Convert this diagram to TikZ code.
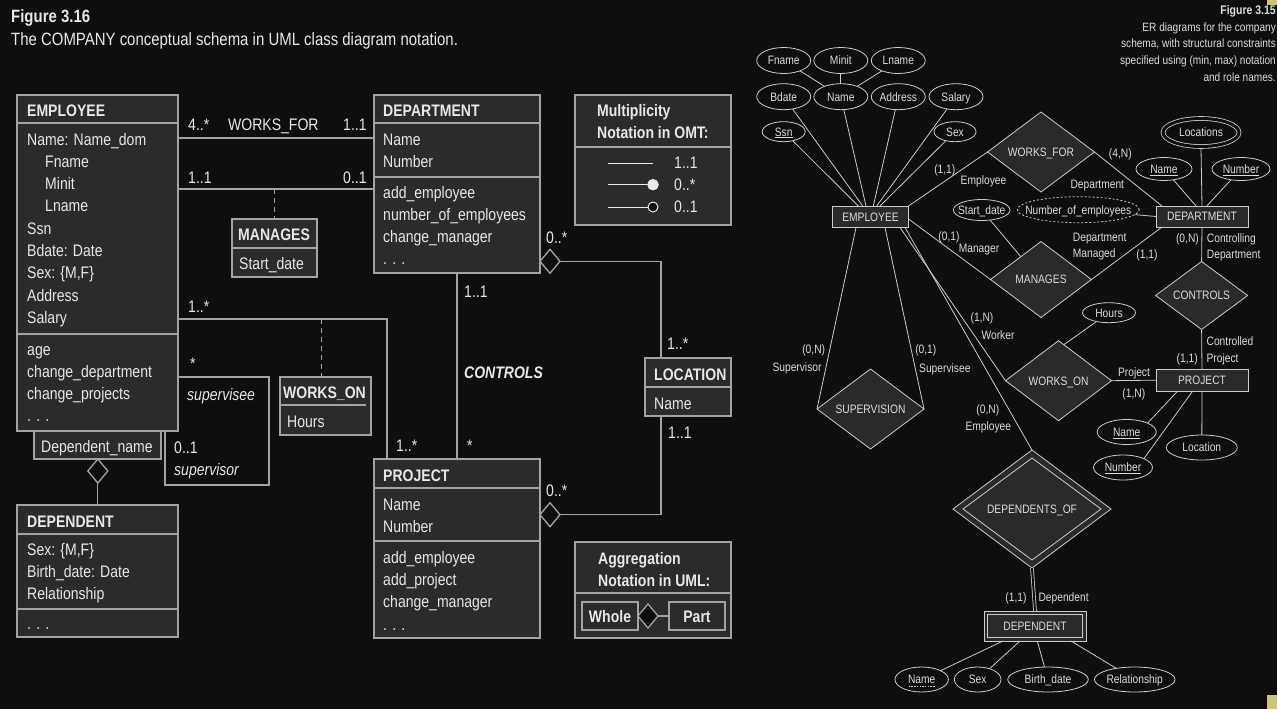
\documentclass[tikz,border=0pt]{standalone}
\usepackage{fontspec}
\setmainfont{Liberation Sans}[FakeStretch=0.84]
\usetikzlibrary{shapes.geometric,calc}
\definecolor{bg}{HTML}{0E0E0E}
\definecolor{boxfill}{HTML}{2B2B2B}
\definecolor{ulcol}{HTML}{A3A3A3}
\definecolor{utext}{HTML}{E8E8E8}
\definecolor{ercol}{HTML}{CCCCCC}
\definecolor{efill}{HTML}{2A2A2A}
\definecolor{etext}{HTML}{DCDCDC}
\definecolor{cornermk}{HTML}{CFC27A}
\newcommand\uf{\fontsize{16.7}{20}\selectfont}
\newcommand\etf{\fontsize{12.2}{14}\selectfont}
\tikzset{
  umlbox/.style={rectangle, draw=ulcol, fill=boxfill, line width=1.3pt, inner sep=0pt, outer sep=0pt},
  uconn/.style={draw=ulcol, line width=1.3pt},
  udash/.style={draw=ulcol, line width=1pt, dash pattern=on 5pt off 4pt},
  ut/.style={anchor=base west, inner sep=0pt, text=utext, font=\uf},
  utb/.style={ut, font=\uf\bfseries},
  uti/.style={ut, font=\uf\itshape},
  adia/.style={diamond, draw=ulcol, fill=bg, line width=1.3pt, inner sep=0pt, outer sep=0pt, minimum width=20pt, minimum height=24pt},
  erl/.style={draw=ercol, line width=0.8pt},
  eell/.style={ellipse, draw=ercol, line width=0.8pt, inner sep=0pt, outer sep=0pt, text=etext, font=\etf, text height=8.7pt, text depth=0pt},
  edia/.style={diamond, draw=ercol, fill=efill, line width=0.8pt, inner sep=0pt, outer sep=0pt, text=etext, font=\etf, text height=8.7pt, text depth=0pt},
  erect/.style={rectangle, draw=ercol, fill=efill, line width=0.8pt, inner sep=0pt, outer sep=0pt, text=etext, font=\etf, text height=8.7pt, text depth=0pt},
  elab/.style={inner sep=0pt, text=etext, font=\etf, text height=8.7pt, text depth=0pt},
}
\newcommand\ubox[5]{\node[umlbox, minimum width={(#4)-(#2)}, minimum height={(#5)-(#3)}] (#1) at ({((#2)+(#4))/2},{((#3)+(#5))/2}) {};}
\newcommand\usepl[2]{\draw[uconn] ($(#1.north west)+(0,#2)$) -- ($(#1.north east)+(0,#2)$);}
\newcommand\erell[6]{\node[eell, minimum width={2*(#4)}, minimum height={2*(#5)}] (#1) at (#2,#3) {\makebox[0pt]{#6}};}
\newcommand\erdia[6]{\node[edia, minimum width={2*(#4)}, minimum height={2*(#5)}] (#1) at (#2,#3) {\makebox[0pt]{#6}};}
\newcommand\errect[6]{\node[erect, minimum width={(#4)-(#2)}, minimum height={(#5)-(#3)}] (#1) at ({((#2)+(#4))/2},{((#3)+(#5))/2}) {\makebox[0pt]{#6}};}
\begin{document}
\begin{tikzpicture}[x=1pt,y=-1pt]
\useasboundingbox (0,0) rectangle (1277,709);
\fill[bg] (0,0) rectangle (1277,709);
\fill[cornermk] (1267,0) rectangle (1277,5);
\fill[cornermk] (1267,695) rectangle (1277,709);

% ---------------- UML titles
\node[anchor=base west, inner sep=0pt, text=utext, font=\fontsize{17.8}{20}\selectfont\bfseries] (t1) at (11,22.7) {Figure 3.16};
\node[anchor=base west, inner sep=0pt, text=utext, font=\fontsize{17.8}{20}\selectfont] (t2) at (11,45.5) {The COMPANY conceptual schema in UML class diagram notation.};

% ---------------- UML boxes
\ubox{depnm}{34}{431}{161}{459}
\ubox{emp}{17}{95}{178}{431}
\usepl{emp}{28}
\usepl{emp}{239}
\ubox{dep}{17}{505}{178}{637}
\usepl{dep}{29}
\usepl{dep}{104}
\ubox{mgs}{232}{219}{317}{277}
\usepl{mgs}{29}
\ubox{wko}{280}{377}{371}{435}
\draw[uconn] (280,405) -- (366,405);
\ubox{dept}{374}{95}{540}{273}
\usepl{dept}{28}
\usepl{dept}{82}
\ubox{mult}{575}{95}{731}{225}
\usepl{mult}{52}
\ubox{loc}{645}{358}{731}{416}
\usepl{loc}{29}
\ubox{proj}{374}{459}{540}{638}
\usepl{proj}{29}
\usepl{proj}{82}
\ubox{aggr}{575}{542}{731}{638}
\usepl{aggr}{51}
\ubox{whole}{582}{602}{638}{630}
\ubox{part}{669}{602}{725}{630}

\node[adia] (depdia) at (97.8,471) {};
\node[adia] (ddia) at (550,261.3) {};
\node[adia] (pdia) at (550,514.7) {};
\node[adia] (agdia) at (648,616) {};

% ---------------- UML connectors
\coordinate (wfy) at (0,138);
\coordinate (mgy) at (0,189);
\coordinate (woc) at (387,319);
\coordinate (wod) at (321,319);
\coordinate (ctx) at (457,0);
\coordinate (lx) at (661,0);
\coordinate (svt) at (269,377);
\coordinate (svb) at (269,485);
\draw[uconn] (emp.east|-wfy) -- (dept.west|-wfy);
\draw[uconn] (emp.east|-mgy) -- (dept.west|-mgy);
\draw[udash] (mgs.north|-mgy) -- (mgs.north);
\draw[uconn] (emp.east|-woc) -- (woc) -- (woc|-proj.north);
\draw[udash] (wod) -- (wod|-wko.north);
\draw[uconn] (emp.east|-svt) -- (svt) -- (svb) -| ($(emp.south west)+(148,0)$);
\draw[uconn] (ctx|-dept.south) -- (ctx|-proj.north);
\draw[uconn] (ddia.east) -| (lx|-loc.north);
\draw[uconn] (pdia.east) -| (lx|-loc.south);
\draw[uconn] (depdia.south) -- (depdia.south|-dep.north);
\draw[uconn] (agdia.east) -- (part.west);

% OMT legend
\coordinate (om1) at (608,163);
\coordinate (om2) at (608,184.7);
\coordinate (om3) at (608,207);
\node[circle, fill=utext, draw=utext, line width=1pt, inner sep=0pt, minimum size=10.5pt] (fc) at (653,184.7) {};
\node[circle, fill=bg, draw=utext, line width=1pt, inner sep=0pt, minimum size=10pt] (oc) at (653,207) {};
\coordinate (om1e) at (653,163);
\draw[draw=utext, line width=1pt] (om1) -- (om1e);
\draw[draw=utext, line width=1pt] (om2) -- (fc.west);
\draw[draw=utext, line width=1pt] (om3) -- (oc.west);

% ---------------- UML texts
\node[utb] (e0) at (27,116) {EMPLOYEE};
\node[ut] (e1) at (27,145) {Name: Name\_dom};
\node[ut] (e2) at (45,167.3) {Fname};
\node[ut] (e3) at (45,189.6) {Minit};
\node[ut] (e4) at (45,211.9) {Lname};
\node[ut] (e5) at (27,234.2) {Ssn};
\node[ut] (e6) at (27,256.5) {Bdate: Date};
\node[ut] (e7) at (27,278.8) {Sex: \{M,F\}};
\node[ut] (e8) at (27,301.1) {Address};
\node[ut] (e9) at (27,323.4) {Salary};
\node[ut] (e10) at (27,355) {age};
\node[ut] (e11) at (27,377) {change\_department};
\node[ut] (e12) at (27,399) {change\_projects};
\node[ut] (e13) at (27,421) {. . .};
\node[ut] (dn0) at (41,452) {Dependent\_name};
\node[utb] (d0) at (27,527) {DEPENDENT};
\node[ut] (d1) at (27,555) {Sex: \{M,F\}};
\node[ut] (d2) at (27,577) {Birth\_date: Date};
\node[ut] (d3) at (27,599) {Relationship};
\node[ut] (d4) at (27,629) {. . .};

\node[ut] (m1) at (188,130.5) {4..*};
\node[ut] (m2) at (228,130.5) {WORKS\_FOR};
\node[ut] (m3) at (343,130.5) {1..1};
\node[ut] (m4) at (188,183) {1..1};
\node[ut] (m5) at (343,183) {0..1};
\node[ut] (m6) at (188,312) {1..*};
\node[ut] (m7) at (190,369) {*};
\node[uti] (m8) at (187,400) {supervisee};
\node[ut] (m9) at (174,453) {0..1};
\node[uti] (m10) at (174,475) {supervisor};

\node[utb] (g0) at (238,240) {MANAGES};
\node[ut] (g1) at (239,269) {Start\_date};
\node[utb] (w0) at (283,398) {WORKS\_ON};
\node[ut] (w1) at (287,427) {Hours};

\node[utb] (p0) at (383,116) {DEPARTMENT};
\node[ut] (p1) at (383,145) {Name};
\node[ut] (p2) at (383,167) {Number};
\node[ut] (p3) at (383,198) {add\_employee};
\node[ut] (p4) at (383,220) {number\_of\_employees};
\node[ut] (p5) at (383,242) {change\_manager};
\node[ut] (p6) at (383,264) {. . .};

\node[utb] (o0) at (597,116) {Multiplicity};
\node[utb] (o1) at (597,138) {Notation in OMT:};
\node[ut] (o2) at (674,168.5) {1..1};
\node[ut] (o3) at (674,190) {0..*};
\node[ut] (o4) at (674,212) {0..1};

\node[ut] (c1) at (546,243) {0..*};
\node[ut] (c2) at (464,297) {1..1};
\node[ut, font=\uf\bfseries\itshape] (c3) at (464,378) {CONTROLS};
\node[ut] (c4) at (667,349) {1..*};
\node[utb] (l0) at (654,380) {LOCATION};
\node[ut] (l1) at (654,409) {Name};
\node[ut] (l2) at (668,438) {1..1};
\node[ut] (c5) at (396,451) {1..*};
\node[ut] (c6) at (467,451) {*};
\node[ut] (c7) at (546,496) {0..*};

\node[utb] (r0) at (383,481) {PROJECT};
\node[ut] (r1) at (383,510) {Name};
\node[ut] (r2) at (383,532) {Number};
\node[ut] (r3) at (383,563) {add\_employee};
\node[ut] (r4) at (383,585) {add\_project};
\node[ut] (r5) at (383,607) {change\_manager};
\node[ut] (r6) at (383,630) {. . .};

\node[utb] (a0) at (598,564) {Aggregation};
\node[utb] (a1) at (598,586) {Notation in UML:};
\node[utb, anchor=base] (a2) at (610,622) {Whole};
\node[utb, anchor=base] (a3) at (697,622) {Part};

% ---------------- ER title
\node[anchor=east, inner sep=0pt, text=etext, font=\fontsize{12.5}{14}\selectfont\bfseries, text height=8.9pt, text depth=0pt] (et0) at (1276,10) {Figure 3.15};
\node[anchor=east, elab, font=\fontsize{12}{14}\selectfont] (et1) at (1276,27) {ER diagrams for the company};
\node[anchor=east, elab, font=\fontsize{12}{14}\selectfont] (et2) at (1276,43.5) {schema, with structural constraints};
\node[anchor=east, elab, font=\fontsize{12}{14}\selectfont] (et3) at (1276,60) {specified using (min, max) notation};
\node[anchor=east, elab, font=\fontsize{12}{14}\selectfont] (et4) at (1276,76.7) {and role names.};

% ---------------- ER shapes
\erell{fname}{783.7}{60.5}{27}{13}{Fname}
\erell{minit}{840.8}{60.5}{27}{13}{Minit}
\erell{lname}{898.3}{60.5}{27}{13}{Lname}
\erell{bdate}{783.7}{96.7}{27}{13}{Bdate}
\erell{ename}{840.8}{96.7}{27}{13}{Name}
\erell{address}{898.3}{96.7}{27}{13}{Address}
\erell{salary}{956}{96.7}{27}{13}{Salary}
\erell{ssn}{783.7}{131.7}{21.5}{10}{\underline{Ssn}}
\erell{sex}{955}{131.7}{21}{10}{Sex}
\node[eell, double=bg, double distance=3pt, minimum width=76pt, minimum height=28pt] (locations) at (1201,132.5) {\makebox[0pt]{Locations}};
\erell{dname}{1164}{169}{28}{11.5}{\underline{Name}}
\erell{dnumber}{1241}{169}{29}{11.5}{\underline{Number}}
\erell{startdate}{981.7}{210}{28.3}{10.5}{Start\_date}
\node[eell, dash pattern=on 2pt off 2pt, minimum width=122pt, minimum height=26pt] (numemp) at (1078.3,209.7) {\makebox[0pt]{Number\_of\_employees}};
\erell{hours}{1109}{312.7}{26.5}{10}{Hours}
\erell{pname}{1126.7}{432}{29.5}{12.5}{\underline{Name}}
\erell{plocation}{1201.8}{447.5}{35.5}{12.5}{Location}
\erell{pnumber}{1123}{467.5}{29.5}{12.5}{\underline{Number}}
\erell{depname}{921.7}{679.5}{26.7}{12.5}{Name}
\erell{depsex}{977.7}{679.5}{23.3}{12.5}{Sex}
\erell{birthdate}{1048}{679.5}{40.3}{12.5}{Birth\_date}
\erell{relationship}{1134.7}{679.5}{40.3}{12.5}{Relationship}
\draw[draw=ercol, line width=0.7pt, dash pattern=on 1.5pt off 1.2pt] ($(depname.center)+(-13,6.5)$) -- ($(depname.center)+(13,6.5)$);

\erdia{worksfor}{1041}{152}{53.5}{40}{WORKS\_FOR}
\erdia{manages}{1041}{279.5}{50.5}{38}{MANAGES}
\erdia{controls}{1201.6}{295.5}{46}{34}{CONTROLS}
\erdia{workson}{1058.5}{380.7}{53}{40}{WORKS\_ON}
\erdia{supervision}{870.5}{409}{53.5}{40}{SUPERVISION}
\erdia{depof}{1032}{509}{79}{59}{}
\erdia{depofin}{1032}{509}{69}{51}{DEPENDENTS\_OF}

\errect{eemp}{832.5}{206}{908.5}{227.5}{EMPLOYEE}
\errect{edept}{1156}{206}{1248}{227}{DEPARTMENT}
\errect{eproj}{1156}{369.3}{1248}{391}{PROJECT}
\errect{edep}{984}{611}{1086}{641}{}
\errect{edepin}{987.3}{614.7}{1082.7}{637.3}{DEPENDENT}

% ---------------- ER connectors
\draw[erl] (fname) -- (ename);
\draw[erl] (minit) -- (ename);
\draw[erl] (lname) -- (ename);
\draw[erl] (ssn) -- ($(eemp.north west)+(25.8,0)$);
\draw[erl] (bdate) -- ($(eemp.north west)+(30.2,0)$);
\draw[erl] (ename) -- ($(eemp.north west)+(33.5,0)$);
\draw[erl] (address) -- ($(eemp.north west)+(40.8,0)$);
\draw[erl] (salary) -- ($(eemp.north west)+(44.2,0)$);
\draw[erl] (sex) -- ($(eemp.north west)+(47.5,0)$);
\draw[erl] (eemp.north east) -- (worksfor.west);
\draw[erl] (worksfor.east) -- ($(edept.north west)+(6,0)$);
\draw[erl] ($(eemp.north east)+(0,13)$) -- (manages.west);
\draw[erl] (startdate) -- ($(manages.west)!0.6!(manages.north)$);
\draw[erl] (manages.east) -- ($(edept.south west)+(6,0)$);
\draw[erl] (numemp) -- (edept.west);
\draw[erl] ($(locations.south)+(0,2.3)$) -- (edept.north);
\draw[erl] (dname) -- ($(edept.north west)+(40,0)$);
\draw[erl] (dnumber) -- ($(edept.north west)+(50.7,0)$);
\draw[erl] (edept.south) -- (controls.north);
\draw[erl] (controls.south) -- (eproj.north);
\draw[erl] (hours) -- ($(workson.north)!0.1!(workson.east)$);
\draw[erl] (workson.east) -- (eproj.west);
\draw[erl] ($(eemp.south west)+(67.5,0)$) -- (workson.west);
\draw[erl] ($(eemp.south west)+(72.5,0)$) -- (depof.north);
\draw[erl] ($(eemp.south west)+(23.5,0)$) -- (supervision.west);
\draw[erl] ($(eemp.south west)+(52.5,0)$) -- (supervision.east);
\draw[erl, double=bg, double distance=2pt] (depof.south) -- (edep.north);
\draw[erl] ($(edep.south west)+(19,0)$) -- (depname.north east);
\draw[erl] ($(edep.south west)+(36,0)$) -- (depsex);
\draw[erl] ($(edep.south west)+(53.3,0)$) -- (birthdate);
\draw[erl] ($(edep.south west)+(87,0)$) -- (relationship);
\draw[erl] ($(eproj.south west)+(21.7,0)$) -- (pname.north east);
\draw[erl] ($(eproj.south west)+(36.7,0)$) -- (pnumber.north east);
\draw[erl] (eproj.south) -- (plocation);

% ---------------- ER labels
\node[elab] (x1) at (944.8,169.3) {(1,1)};
\node[elab] (x2) at (983.5,180) {Employee};
\node[elab] (x3) at (1120.3,153.5) {(4,N)};
\node[elab] (x4) at (1097.3,184) {Department};
\node[elab] (x5) at (949,236.5) {(0,1)};
\node[elab] (x6) at (979,248.5) {Manager};
\node[elab, anchor=west] (x7) at (1072.7,236.7) {Department};
\node[elab, anchor=west] (x8) at (1072.7,253.3) {Managed};
\node[elab] (x9) at (1147,254) {(1,1)};
\node[elab, anchor=east] (x10) at (1199,238) {(0,N)};
\node[elab, anchor=west] (x11) at (1206.7,237.7) {Controlling};
\node[elab, anchor=west] (x12) at (1206.7,254.3) {Department};
\node[elab, anchor=west] (x13) at (1206.4,340.7) {Controlled};
\node[elab, anchor=west] (x14) at (1206.4,357.7) {Project};
\node[elab, anchor=east] (x15) at (1198,357.7) {(1,1)};
\node[elab] (x16) at (1134,371.7) {Project};
\node[elab] (x17) at (1133.8,392.7) {(1,N)};
\node[elab] (x18) at (982,316.7) {(1,N)};
\node[elab] (x19) at (998,335) {Worker};
\node[elab] (x20) at (813.7,349.5) {(0,N)};
\node[elab, anchor=east] (x21) at (821.7,366.7) {Supervisor};
\node[elab] (x22) at (925.8,349.5) {(0,1)};
\node[elab, anchor=west] (x23) at (919,368.3) {Supervisee};
\node[elab] (x24) at (987.8,409) {(0,N)};
\node[elab] (x25) at (988.3,426) {Employee};
\node[elab, anchor=east] (x26) at (1026.7,596.7) {(1,1)};
\node[elab, anchor=west] (x27) at (1038.3,596.7) {Dependent};
\end{tikzpicture}
\end{document}
